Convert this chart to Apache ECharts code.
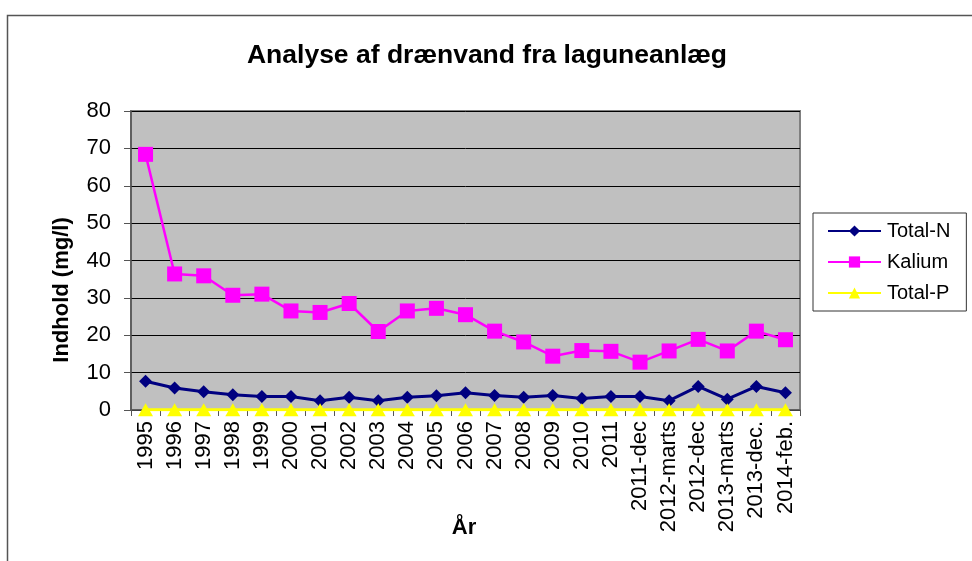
<!DOCTYPE html>
<html><head><meta charset="utf-8">
<script src="https://cdn.jsdelivr.net/npm/echarts@6/dist/echarts.min.js"></script>
<style>html,body{margin:0;padding:0;background:#fff}#c{width:972px;height:561px}</style>
</head><body><div id="c"></div>
<script>
var categories = ['1995','1996','1997','1998','1999','2000','2001','2002','2003','2004','2005','2006','2007','2008','2009','2010','2011','2011-dec','2012-marts','2012-dec','2013-marts','2013-dec.','2014-feb.'];
var totalN = [7.7,5.9,4.9,4.1,3.6,3.6,2.5,3.4,2.5,3.4,3.8,4.6,3.9,3.4,3.9,3.1,3.6,3.6,2.5,6.3,2.9,6.3,4.6];
var kalium = [68.4,36.4,35.9,30.7,31.0,26.5,26.1,28.5,21.0,26.5,27.2,25.5,21.1,18.2,14.4,15.9,15.7,12.8,15.8,18.9,15.8,21.1,18.8];
var totalP = [0.1,0.1,0.1,0.1,0.1,0.1,0.1,0.1,0.1,0.1,0.1,0.1,0.1,0.1,0.1,0.1,0.1,0.1,0.1,0.1,0.1,0.1,0.1];
var yTicks = {min:0, max:80, interval:10};

var font = 'Liberation Sans, Arial, sans-serif';
var chart = echarts.init(document.getElementById('c'), null, {renderer:'canvas'});
chart.setOption({
  animation:false,
  backgroundColor:'#fff',
  textStyle:{fontFamily:font},
  graphic:[
    {type:'rect', left:5, top:13, shape:{width:1000, height:600}, style:{fill:'none', stroke:'#555', lineWidth:1.5}, z:-1},
    {type:'text', x:61.5, y:290, rotation:Math.PI/2,
     style:{text:'Indhold (mg/l)', fontFamily:font, fontSize:22, fontWeight:'bold', fill:'#000', align:'center', verticalAlign:'middle'}},
    {type:'text', x:464, y:528,
     style:{text:'År', fontFamily:font, fontSize:22, fontWeight:'bold', fill:'#000', align:'center', verticalAlign:'middle'}}
  ],
  title:{text:'Analyse af drænvand fra laguneanlæg', left:482, textAlign:'center', top:37,
    textStyle:{fontFamily:font, fontSize:26.5, fontWeight:'bold', color:'#000'}},
  legend:{orient:'vertical', left:813, top:213,
    padding:[6,16,6,14], itemGap:7, itemWidth:53, itemHeight:14,
    borderColor:'#333', borderWidth:1, backgroundColor:'#fff',
    textStyle:{fontFamily:font, fontSize:20, color:'#000', padding:[0,0,0,1], lineHeight:24},
    data:['Total-N','Kalium','Total-P']},
  grid:{left:131, right:172, top:111, bottom:151, containLabel:false, outerBoundsMode:'none',
    show:true, backgroundColor:'#C0C0C0', borderColor:'#808080', borderWidth:2},
  xAxis:{type:'category', data:categories, boundaryGap:true,
    axisLine:{lineStyle:{color:'#555', width:1.5}},
    axisTick:{show:true, length:6, lineStyle:{color:'#555'}},
    axisLabel:{rotate:90, fontFamily:font, fontSize:22, color:'#000', margin:11, interval:0},
    splitLine:{show:false}},
  yAxis:{type:'value', min:yTicks.min, max:yTicks.max, interval:yTicks.interval,
    axisLine:{show:true, lineStyle:{color:'#555', width:1.5}},
    axisTick:{show:true, length:7, lineStyle:{color:'#555'}},
    axisLabel:{fontFamily:font, fontSize:22, color:'#000', margin:20},
    splitLine:{lineStyle:{color:'#000', width:1}}},
  series:[
    {name:'Total-N', type:'line', data:totalN, color:'#000080',
     symbol:'path://M0,-1L1,0L0,1L-1,0Z', symbolSize:[13,13], showAllSymbol:true,
     lineStyle:{width:3, color:'#000080'}, itemStyle:{color:'#000080'}, z:3},
    {name:'Kalium', type:'line', data:kalium, color:'#FF00FF',
     symbol:'rect', symbolSize:15, showAllSymbol:true,
     lineStyle:{width:2.5, color:'#FF00FF'}, itemStyle:{color:'#FF00FF'}, z:2},
    {name:'Total-P', type:'line', data:totalP, color:'#FFFF00',
     symbol:'triangle', symbolSize:[15,13], showAllSymbol:true,
     lineStyle:{width:3, color:'#FFFF00'}, itemStyle:{color:'#FFFF00'}, z:4}
  ]
});
</script></body></html>
